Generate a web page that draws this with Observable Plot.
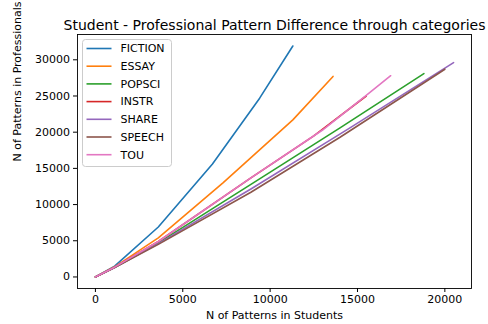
<!DOCTYPE html>
<html>
<head>
<meta charset="utf-8">
<script src="https://cdn.jsdelivr.net/npm/d3@7"></script>
<script src="https://cdn.jsdelivr.net/npm/@observablehq/plot@0.6"></script>
<style>
  html, body { margin: 0; padding: 0; background: #fff; }
  #chart { position: relative; width: 488px; height: 324px; }
  svg { font-family: "DejaVu Sans", sans-serif; }
</style>
</head>
<body>
<div id="chart"></div>
<script>
const title = "Student - Professional Pattern Difference through categories";
const xLabel = "N of Patterns in Students";
const yLabel = "N of Patterns in Professionals";
const categories = ["FICTION", "ESSAY", "POPSCI", "INSTR", "SHARE", "SPEECH", "TOU"];
const colors = ["#1f77b4", "#ff7f0e", "#2ca02c", "#d62728", "#9467bd", "#8c564b", "#e377c2"];
const xTicks = [0, 5000, 10000, 15000, 20000];
const yTicks = [0, 5000, 10000, 15000, 20000, 25000, 30000];

const fictionX = [0, 1100, 3600, 6700, 9400, 11300];
const fictionY = [0, 1500, 6900, 15600, 24700, 31900];
const essayX = [0, 1100, 3600, 7300, 11300, 13600];
const essayY = [0, 1400, 5400, 13000, 21700, 27700];
const popsciX = [0, 1100, 3600, 8900, 14000, 18800];
const popsciY = [0, 1300, 4700, 12800, 20600, 28100];
const instrX = [0, 1100, 3600, 8900, 12500, 15500];
const instrY = [0, 1350, 4900, 13700, 19500, 25000];
const shareX = [0, 1100, 3600, 8900, 14500, 20500];
const shareY = [0, 1300, 4600, 12150, 20500, 29600];
const speechX = [0, 1100, 3600, 8900, 14000, 20000];
const speechY = [0, 1300, 4500, 11700, 19300, 28700];
const touX = [0, 1100, 3600, 8900, 13000, 15500, 16900];
const touY = [0, 1350, 4900, 13700, 20300, 25100, 27800];

const series = [
  ["FICTION", fictionX, fictionY],
  ["ESSAY", essayX, essayY],
  ["POPSCI", popsciX, popsciY],
  ["INSTR", instrX, instrY],
  ["SHARE", shareX, shareY],
  ["SPEECH", speechX, speechY],
  ["TOU", touX, touY]
];
const rows = [];
for (const [cat, xs, ys] of series) xs.forEach((x, i) => rows.push({cat, x, y: ys[i]}));

const xMin = d3.min(rows, d => d.x), xMax = d3.max(rows, d => d.x);
const yMin = d3.min(rows, d => d.y), yMax = d3.max(rows, d => d.y);
const xPad = (xMax - xMin) * 0.05, yPad = (yMax - yMin) * 0.05;

const W = 488, H = 324;
const mL = 77, mR = 17, mT = 34, mB = 36;

const plot = Plot.plot({
  width: W, height: H,
  marginLeft: mL, marginRight: mR, marginTop: mT, marginBottom: mB,
  style: {fontFamily: "DejaVu Sans, sans-serif", fontSize: "11px", color: "#000", background: "#fff"},
  x: {domain: [xMin - xPad, xMax + xPad], ticks: xTicks, tickFormat: d => String(d), label: null},
  y: {domain: [yMin - yPad, yMax + yPad], ticks: yTicks, tickFormat: d => String(d), label: null},
  color: {domain: categories, range: colors},
  marks: [
    Plot.line(rows, {x: "x", y: "y", z: "cat", stroke: "cat", strokeWidth: 1.6}),
    Plot.frame({stroke: "#000", strokeWidth: 0.9}),
    Plot.axisX({ticks: xTicks, tickSize: 4, tickPadding: 3, fontSize: 11, tickFormat: d => String(d), label: null}),
    Plot.axisY({ticks: yTicks, tickSize: 4, tickPadding: 3.5, fontSize: 11, tickFormat: d => String(d), label: null}),
    Plot.text([title], {text: d => d, frameAnchor: "top", dy: -14, fontSize: 14, fill: "#000"}),
    Plot.text([xLabel], {text: d => d, frameAnchor: "bottom", dy: 30, fontSize: 11, fill: "#000"}),
    Plot.text([yLabel], {text: d => d, frameAnchor: "left", dx: -60, rotate: -90, fontSize: 11, fill: "#000"})
  ]
});
document.getElementById("chart").appendChild(plot);

// Legend (matplotlib-style box in upper-left of axes)
const svg = d3.select(plot);
const lg = svg.append("g").attr("font-family", "DejaVu Sans, sans-serif").attr("font-size", 11)
  .attr("text-anchor", "start");
const lx = mL + 5.5, ly = mT + 5.5, rowH = 17.7;
lg.append("rect").attr("x", lx).attr("y", ly).attr("width", 89).attr("height", 127)
  .attr("rx", 3).attr("fill", "#fff").attr("fill-opacity", 0.8).attr("stroke", "#ccc").attr("stroke-width", 1);
categories.forEach((c, i) => {
  const cy = ly + 9 + i * rowH;
  lg.append("line").attr("x1", lx + 4).attr("x2", lx + 29).attr("y1", cy).attr("y2", cy)
    .attr("stroke", colors[i]).attr("stroke-width", 1.6);
  lg.append("text").attr("x", lx + 38).attr("y", cy).attr("dy", "0.35em").attr("fill", "#000")
    .attr("text-anchor", "start").text(c);
});
</script>
</body>
</html>
